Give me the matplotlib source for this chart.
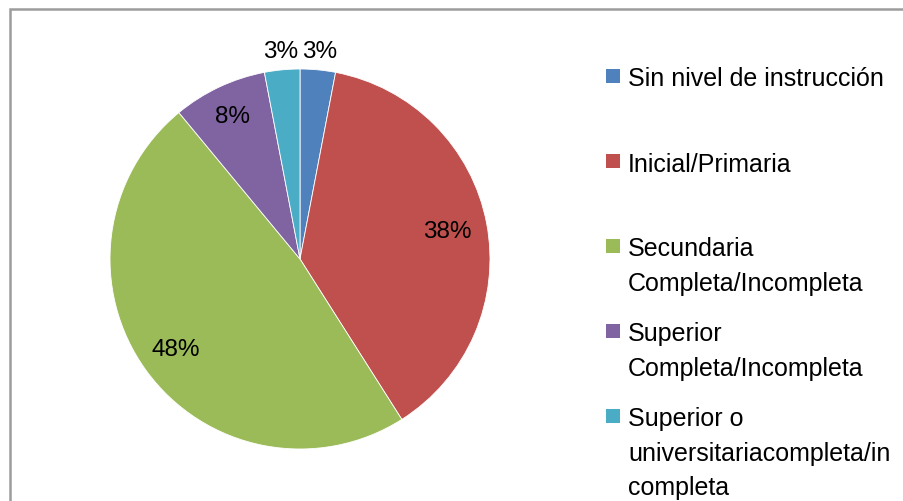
import matplotlib
matplotlib.use("Agg")
import matplotlib.pyplot as plt
from matplotlib.patches import Rectangle
import numpy as np

plt.rcParams['font.family'] = ['Liberation Sans', 'DejaVu Sans']

categories = ["Sin nivel de instrucción",
              "Inicial/Primaria",
              "Secundaria\nCompleta/Incompleta",
              "Superior\nCompleta/Incompleta",
              "Superior o\nuniversitariacompleta/in\ncompleta"]
values = [3, 38, 48, 8, 3]
pct_labels = ["3%", "38%", "48%", "8%", "3%"]
colors = ["#4F81BD", "#C0504D", "#9BBB59", "#8064A2", "#4BACC6"]

W, H = 904, 502
fig = plt.figure(figsize=(W / 100, H / 100), dpi=100)

# frame (left and top borders visible)
fig.add_artist(Rectangle((10 / W, -0.1), 1.2, (H - 10) / H + 0.1, transform=fig.transFigure,
                         fill=False, edgecolor="#9C9C9C", linewidth=1.8))

cx, cy, r = 300, 260, 190
ax = fig.add_axes([(cx - r) / W, (H - cy - r) / H, 2 * r / W, 2 * r / H])
wedges, _ = ax.pie(values, colors=colors, startangle=90, counterclock=False,
                   radius=1.0, wedgeprops=dict(edgecolor="white", linewidth=0.6))
ax.set_xlim(-1, 1)
ax.set_ylim(-1, 1)
ax.set_aspect('equal')
ax.axis('off')

dists = [1.10, 0.79, 0.81, 0.83, 1.10]
for w, lab, d in zip(wedges, pct_labels, dists):
    ang = np.deg2rad((w.theta1 + w.theta2) / 2)
    ax.text(d * np.cos(ang), d * np.sin(ang), lab, ha='center', va='center',
            fontsize=17.5, color='black')

# legend
y0 = 77
step = 85
lsp = 34.5
for i, (cat, col) in enumerate(zip(categories, colors)):
    yc = y0 + i * step
    fig.add_artist(Rectangle((606 / W, (H - yc - 7) / H), 14 / W, 14 / H,
                             transform=fig.transFigure, facecolor=col, edgecolor='none'))
    for j, line in enumerate(cat.split("\n")):
        fig.text(628 / W, (H - yc - j * lsp) / H, line, ha='left', va='center_baseline',
                 fontsize=18, color='black')

fig.savefig("out.png", dpi=100)
